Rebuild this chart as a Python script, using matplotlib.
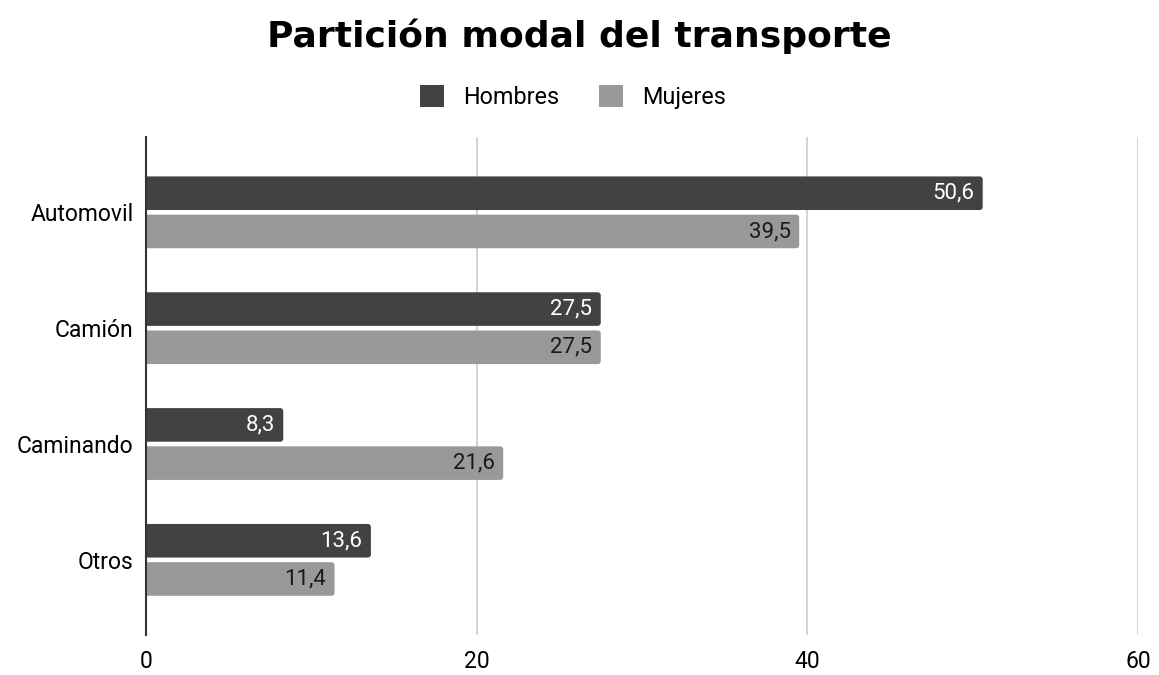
import numpy as np
import matplotlib.pyplot as plt
from matplotlib.patches import FancyBboxPatch, Patch

# Data
categories = ['Automovil', 'Camión', 'Caminando', 'Otros']
hombres = [50.6, 27.5, 8.3, 13.6]
mujeres = [39.5, 27.5, 21.6, 11.4]
x_ticks = [0, 20, 40, 60]

col_h = '#424242'
col_m = '#999999'

plt.rcParams['font.family'] = ['Roboto', 'DejaVu Sans']

fig = plt.figure(figsize=(11.59, 6.75), dpi=100)
ax = fig.add_axes([0.126, 0.059, 0.856, 0.738])
ax.set_xlim(0, 60)
ax.set_ylim(3.65, -0.65)

y = np.arange(len(categories))
h = 0.29
off = 0.165

bars_h = ax.barh(y - off, hombres, height=h, color=col_h)
bars_m = ax.barh(y + off, mujeres, height=h, color=col_m)

# swap plain rectangles for ones with rounded ends (left end gets clipped)
px_x = 60 / 992.0
px_y = 4.3 / 498.0
for bars in (bars_h, bars_m):
    for r in bars:
        r.set_visible(False)
        x0, y0 = r.get_xy()
        p = FancyBboxPatch((x0 - 0.5, y0), r.get_width() + 0.5, r.get_height(),
                           boxstyle=f'round,pad=0,rounding_size={3 * px_x}',
                           mutation_aspect=px_y / px_x,
                           facecolor=r.get_facecolor(), edgecolor='none')
        ax.add_patch(p)

for bar, val in zip(bars_h, hombres):
    ax.text(bar.get_width() - 0.5, bar.get_y() + bar.get_height() / 2,
            f'{val:.1f}'.replace('.', ','), ha='right', va='center',
            color='white', fontsize=16)
for bar, val in zip(bars_m, mujeres):
    ax.text(bar.get_width() - 0.5, bar.get_y() + bar.get_height() / 2,
            f'{val:.1f}'.replace('.', ','), ha='right', va='center',
            color='#1a1a1a', fontsize=16)

ax.set_xticks(x_ticks)
ax.set_xticklabels([str(t) for t in x_ticks], fontsize=16.5)
ax.set_yticks(y)
ax.set_yticklabels(categories, fontsize=16.5)
ax.tick_params(axis='x', length=0, pad=11)
ax.tick_params(axis='y', length=0, pad=9)

ax.grid(axis='x', color='#cccccc', linewidth=1.2)
ax.set_axisbelow(True)
for s in ['top', 'right', 'bottom']:
    ax.spines[s].set_visible(False)
ax.spines['left'].set_color('#333333')
ax.spines['left'].set_linewidth(1.5)
ax.spines['left'].set_zorder(3)

fig.text(0.5, 0.946, 'Partición modal del transporte', ha='center', va='center',
         fontsize=26, fontweight='bold', family=['DejaVu Sans'])
handles = [Patch(facecolor=col_h, label='Hombres'),
           Patch(facecolor=col_m, label='Mujeres')]
fig.legend(handles=handles, loc='center', bbox_to_anchor=(0.494, 0.856), ncol=2,
           frameon=False, fontsize=16.8, handlelength=1.05, handleheight=1.05,
           handletextpad=0.8, columnspacing=1.7)

fig.savefig('out.png', dpi=100)
